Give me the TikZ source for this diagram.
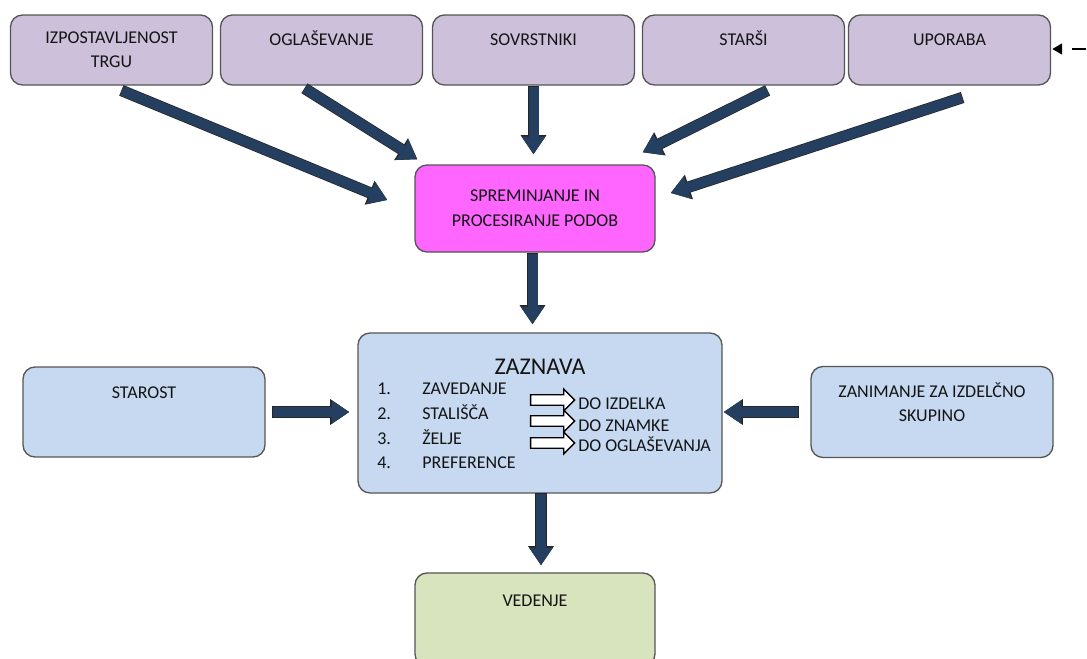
\documentclass[tikz,border=0pt]{standalone}
\usepackage{fontspec}
\setmainfont{Carlito}
\usetikzlibrary{arrows.meta,shapes.arrows,calc}
\definecolor{boxlilac}{HTML}{CCC0DA}
\definecolor{boxblue}{HTML}{C6D9F1}
\definecolor{boxgreen}{HTML}{D7E4BD}
\definecolor{boxpink}{HTML}{FF66FF}
\definecolor{arrowblue}{HTML}{243F60}
\definecolor{framegray}{HTML}{555555}
\tikzset{every node/.style={font=\fontsize{13.5}{18}\selectfont, text=black!92, inner sep=0pt},
  box/.style={draw=framegray, line width=1pt, rounded corners=9pt, align=center},
  topbox/.style={box, fill=boxlilac, minimum width=151.5pt, minimum height=52.5pt},
  oneline/.style={text height=22.5pt, text depth=30pt},
  sidebox/.style={box, fill=boxblue, minimum width=181.5pt, minimum height=67.5pt},
  fatarrow/.style={draw=arrowblue, line width=7.5pt, -{Triangle[length=13.3pt,width=16.8pt]},
    preaction={draw=black!85, line width=8.6pt, shorten <=-0.5pt, -{Triangle[length=14.4pt,width=18.4pt]}}},
  hollowarrow/.style={single arrow, draw=black, fill=white, line width=1pt, inner sep=3.4pt,
    single arrow head extend=4.3pt, minimum height=33pt}}

\begin{document}
\begin{tikzpicture}[x=0.75pt,y=-0.75pt]
  \useasboundingbox (0,0) rectangle (1087,658);
  % top row
  \node[topbox]          (trg)   at (111.5,50) {IZPOSTAVLJENOST\\TRGU};
  \node[topbox,oneline]  (ogl)   at (321.5,50) {OGLAŠEVANJE};
  \node[topbox,oneline]  (sovr)  at (533.5,50) {SOVRSTNIKI};
  \node[topbox,oneline]  (stars) at (743.5,50) {STARŠI};
  \node[topbox,oneline]  (upor)  at (949.5,50) {UPORABA};
  \coordinate (dashend) at (1100,49);
  \draw[black, line width=2.2pt, dash pattern=on 10.5pt off 10.5pt, dash phase=10.5pt,
        -{Triangle[length=7.5pt,width=8pt]}] (dashend) -- ($(upor.east)+(1,-1)$);
  % middle
  \node[box, fill=boxpink, minimum width=180pt, minimum height=65.25pt,
        font=\fontsize{13.5}{19}\selectfont] (sprem) at (535,208.5) {SPREMINJANJE IN\\PROCESIRANJE PODOB};
  \node[box, fill=boxblue, minimum width=273pt, minimum height=120pt] (zaz) at (540,413) {};
  \node[sidebox, text height=23.25pt, text depth=44.25pt] (staro) at (144,412) {STAROST};
  \node[sidebox, text height=41.25pt, text depth=27pt] (zanim) at (932,412) {ZANIMANJE ZA IZDELČNO\\SKUPINO};
  \node[box, fill=boxgreen, minimum width=180pt, text height=24.75pt, text depth=45pt] (ved) at (535,619.5) {VEDENJE};
  % inside ZAZNAVA
  \node[font=\fontsize{18}{22}\selectfont] (title) at (540,367) {ZAZNAVA};
  \foreach \num/\item/\y in {1/ZAVEDANJE/394, 2/STALIŠČA/419, 3/ŽELJE/444, 4/PREFERENCE/468}{
    \node[anchor=base west] (num\num) at (377,\y) {\num.};
    \node[anchor=base west] (item\num) at (422,\y) {\item};
  }
  \node[hollowarrow] (wa1) at (550,400) {};
  \node[hollowarrow] (wa2) at (550,421) {};
  \node[hollowarrow] (wa3) at (550,443) {};
  \node[anchor=base west] (doizd) at (578,409) {DO IZDELKA};
  \node[anchor=base west] (doznm) at (578,431) {DO ZNAMKE};
  \node[anchor=base west] (dogl)  at (578,451) {DO OGLAŠEVANJA};
  % block arrows
  \draw[fatarrow] ($(trg.south)+(10.5,5)$)   -- ($(sprem.west)+(-27,-8.5)$);
  \draw[fatarrow] ($(ogl.south)+(-16.5,3)$)  -- ($(sprem.north west)+(3,-5)$);
  \draw[fatarrow] ($(sovr.south)+(0,1)$)     -- ($(sovr.south |- sprem.north)+(0,-10)$);
  \draw[fatarrow] ($(stars.south)+(23.5,5)$) -- ($(sprem.north east)+(-13,-12)$);
  \draw[fatarrow] ($(upor.south)+(12.5,12)$) -- ($(sprem.east)+(15,-15.5)$);
  \draw[fatarrow] ($(sprem.south)+(-2.5,1)$) -- ($(sprem.south |- zaz.north)+(-2.5,-8)$);
  \draw[fatarrow] ($(staro.east)+(7,0)$)     -- ($(staro.east -| zaz.west)+(-8,0)$);
  \draw[fatarrow] ($(zanim.west)+(-12,0)$)   -- ($(zanim.west -| zaz.east)+(1,0)$);
  \draw[fatarrow] ($(zaz.south)+(1,0)$)      -- ($(zaz.south |- ved.north)+(1,-7)$);
\end{tikzpicture}
\end{document}
